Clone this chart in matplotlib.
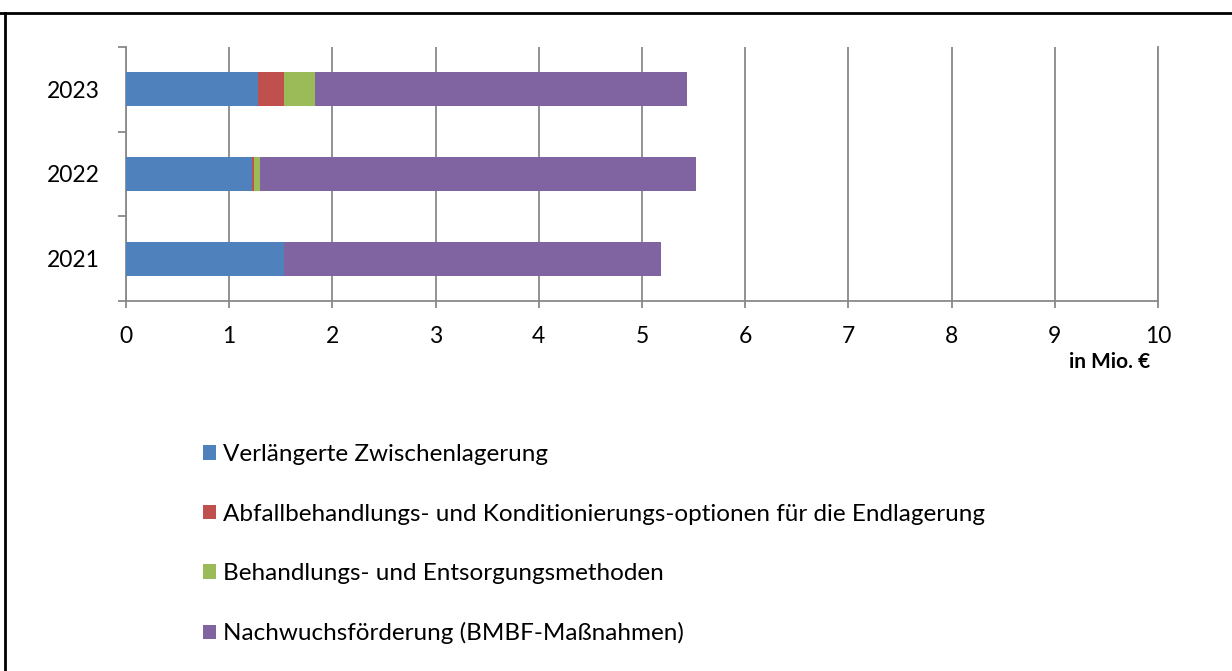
import numpy as np
import matplotlib
matplotlib.use('Agg')
import matplotlib.pyplot as plt
from matplotlib.patches import Patch
from matplotlib.lines import Line2D

plt.rcParams['font.family'] = ['Lato', 'DejaVu Sans']

# Daten (in Mio. Euro)
jahre = ['2021', '2022', '2023']
zwischenlager = [1.53, 1.22, 1.28]
konditionierung = [0.0, 0.02, 0.25]
entsorgung = [0.0, 0.06, 0.30]
nachwuchs = [3.65, 4.22, 3.61]

serien = ['Verlängerte Zwischenlagerung',
          'Abfallbehandlungs- und Konditionierungs-optionen für die Endlagerung',
          'Behandlungs- und Entsorgungsmethoden',
          'Nachwuchsförderung (BMBF-Maßnahmen)']
farben = ['#4F81BD', '#C0504D', '#9BBB59', '#8064A2']

grau = '#898989'

fig = plt.figure(figsize=(12.32, 6.71), dpi=100)
ax = fig.add_axes([126/1232, 1 - 301/671, 1032/1232, 254/671])

y = np.arange(len(jahre))
links = np.zeros(len(jahre))
for werte, farbe in zip([zwischenlager, konditionierung, entsorgung, nachwuchs], farben):
    ax.barh(y, werte, height=0.4, left=links, color=farbe, zorder=3)
    links = links + np.array(werte)

ax.set_xlim(0, 10)
ax.set_ylim(-0.5, 2.5)
ax.set_xticks(range(11))
ax.set_yticks(y)
ax.set_yticklabels(jahre)
ax.set_yticks([-0.5, 0.5, 1.5, 2.5], minor=True)
ax.tick_params(axis='y', which='major', length=0, pad=19, labelsize=16.5)
ax.tick_params(axis='y', which='minor', length=5.5, width=1.3, color=grau)
ax.tick_params(axis='x', length=5, width=1.3, color=grau, pad=13, labelsize=16.5)

ax.xaxis.grid(True, color=grau, linewidth=1.3, zorder=0)
for s in ['top', 'right']:
    ax.spines[s].set_visible(False)
for s in ['left', 'bottom']:
    ax.spines[s].set_color(grau)
    ax.spines[s].set_linewidth(1.3)
# letzte Gitterlinie bei 10
ax.axvline(10, color=grau, linewidth=1.3, clip_on=False, zorder=0)

fig.text(1150/1232, 1 - 362/671, 'in Mio. €', ha='right', va='center',
         fontsize=15, fontweight='bold')

handles = [Patch(facecolor=f, edgecolor='none') for f in farben]
fig.legend(handles, serien, loc='upper left', bbox_to_anchor=(191/1232, 1 - 432/671),
           frameon=False, fontsize=17.5, handlelength=0.53, handleheight=0.53,
           handletextpad=0.3, labelspacing=1.58, borderpad=0)

# Rahmen der Tabellenzelle
fig.add_artist(Line2D([0, 1], [1 - 13/671, 1 - 13/671], color='black', linewidth=2,
                      transform=fig.transFigure))
fig.add_artist(Line2D([5/1232, 5/1232], [0, 1 - 13/671], color='black', linewidth=2,
                      transform=fig.transFigure))

fig.savefig('out.png', dpi=100)
